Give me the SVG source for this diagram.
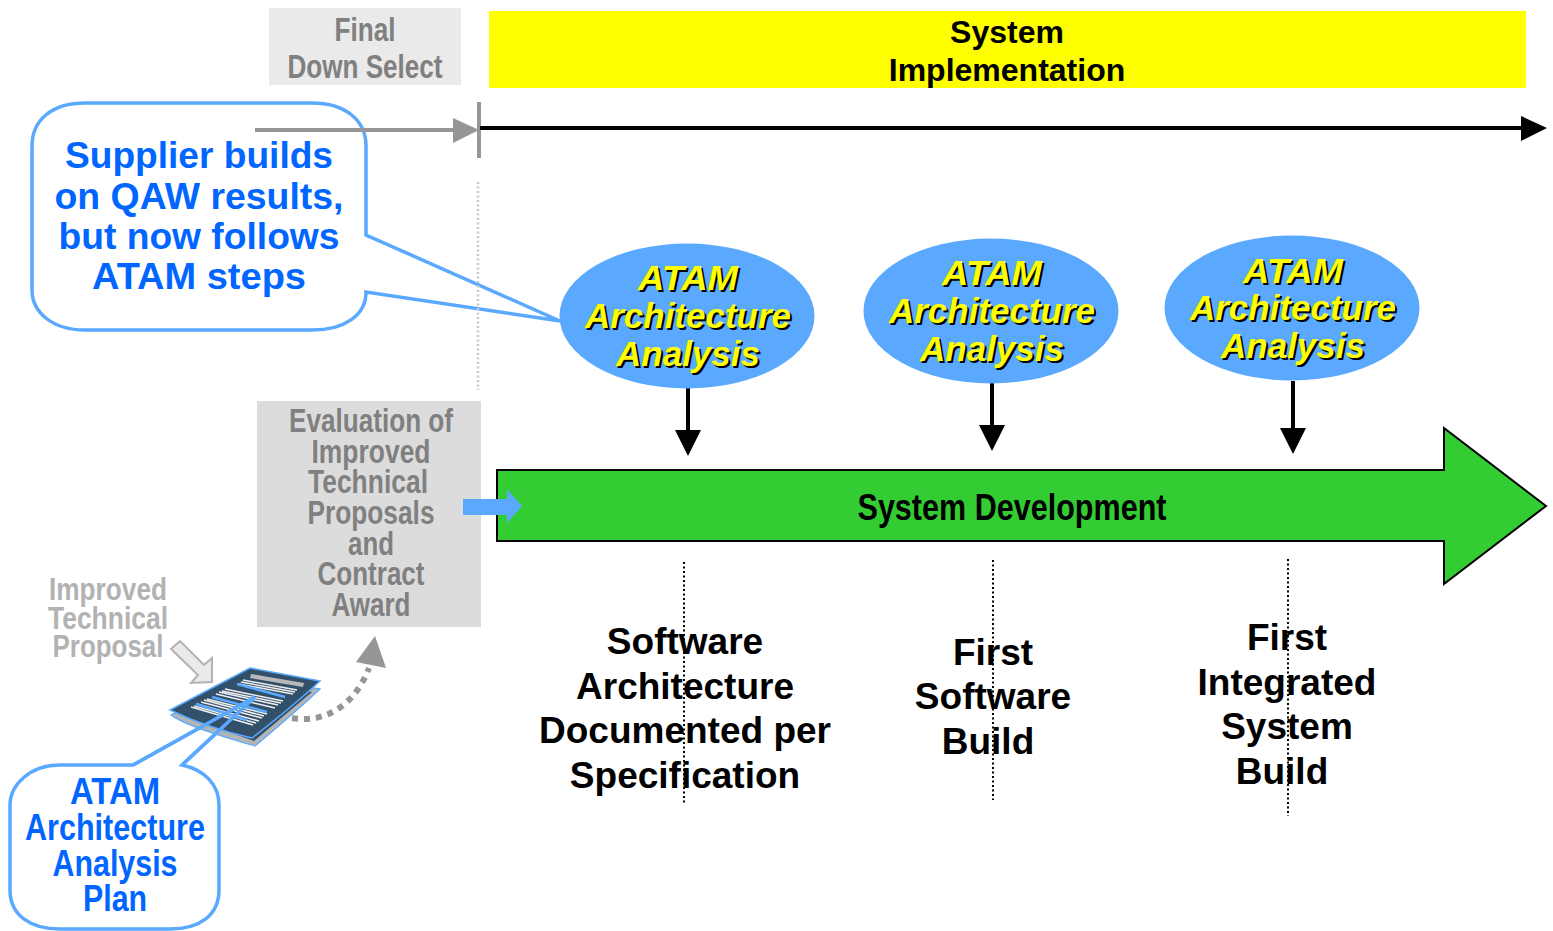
<svg xmlns="http://www.w3.org/2000/svg" width="1553" height="931" viewBox="0 0 1553 931">
<style>
text{font-family:"Liberation Sans",Arial,sans-serif;font-weight:bold;text-anchor:middle}
.g{fill:#808080;font-size:33px}
.lg{fill:#b2b2b2;font-size:32px}
.b{fill:#0066ff;font-size:36px}
.b2{fill:#0066ff;font-size:37.4px}
.k{fill:#000;font-size:37px}
.y{fill:#ffff00;font-size:35px;font-style:italic}
.s{fill:#000;font-size:35px;font-style:italic}
.e{fill:#5aa9ff}
.cal{fill:#fff;stroke:#5aa9ff;stroke-width:3.5}
.calS{fill:none;stroke:#5aa9ff;stroke-width:3.5}
.v{stroke:#000;stroke-width:2;stroke-dasharray:2 2.5;fill:none}
.h{stroke:#efefef;stroke-width:1.5;fill:none}
.bar{stroke:#5aa9ff;stroke-width:2.5;fill:none}
</style>
<rect width="1553" height="931" fill="#fff"/>
<g id="final-down-select"><rect x="269" y="8" width="192" height="77" fill="#eaeaea"/>
<text class="g" x="365" y="41" textLength="61" lengthAdjust="spacingAndGlyphs">Final</text>
<text class="g" x="365" y="78" textLength="155" lengthAdjust="spacingAndGlyphs">Down Select</text></g>
<g id="system-implementation"><rect x="489" y="11" width="1037" height="77" fill="#ffff00"/>
<text class="k" style="font-size:32px" x="1007" y="43">System</text>
<text class="k" style="font-size:32px" x="1007" y="81">Implementation</text></g>
<g id="supplier-callout"><path class="cal" d="M85 103H312C345 103 366 120 366 146V235L560 321L366 292C366 315 345 330 312 330H85C52 330 32 312 32 290V146C32 120 52 103 85 103Z"/>
<text class="b2" x="199" y="168" textLength="268" lengthAdjust="spacingAndGlyphs">Supplier builds</text>
<text class="b2" x="199" y="209" textLength="289" lengthAdjust="spacingAndGlyphs">on QAW results,</text>
<text class="b2" x="199" y="249" textLength="281" lengthAdjust="spacingAndGlyphs">but now follows</text>
<text class="b2" x="199" y="289" textLength="214" lengthAdjust="spacingAndGlyphs">ATAM steps</text></g>
<g id="connectors">
<path d="M255 130H456" stroke="#969696" stroke-width="4" fill="none"/>
<path d="M453 118L479 130L453 143Z" fill="#969696"/>
<path d="M479 102V158" stroke="#969696" stroke-width="4" fill="none"/>
<path d="M480 128H1522" stroke="#000" stroke-width="4" fill="none"/>
<path d="M1521 116L1547 128L1521 141Z" fill="#000"/>
<path d="M478 182V390" stroke="#c8c8c8" stroke-width="2.5" stroke-dasharray="2 2.5" fill="none"/>
<path d="M688 388V431" stroke="#000" stroke-width="4" fill="none"/><path d="M675 430H701L688 456Z" fill="#000"/>
<path d="M992 383V426" stroke="#000" stroke-width="4" fill="none"/><path d="M979 425H1005L992 451Z" fill="#000"/>
<path d="M1293 381V428" stroke="#000" stroke-width="4" fill="none"/><path d="M1280 428H1306L1293 454Z" fill="#000"/>
</g>
<g id="atam-1"><ellipse class="e" cx="687" cy="316" rx="127.5" ry="72.5"/>
<g transform="translate(2 2)"><text class="s" x="688" y="290" textLength="100" lengthAdjust="spacingAndGlyphs">ATAM</text><text class="s" x="688" y="328">Architecture</text><text class="s" x="688" y="366">Analysis</text></g>
<text class="y" x="688" y="290" textLength="100" lengthAdjust="spacingAndGlyphs">ATAM</text><text class="y" x="688" y="328">Architecture</text><text class="y" x="688" y="366">Analysis</text></g>
<g id="atam-2"><ellipse class="e" cx="991" cy="311" rx="127.5" ry="72.5"/>
<g transform="translate(2 2)"><text class="s" x="992" y="285" textLength="100" lengthAdjust="spacingAndGlyphs">ATAM</text><text class="s" x="992" y="323">Architecture</text><text class="s" x="992" y="361">Analysis</text></g>
<text class="y" x="992" y="285" textLength="100" lengthAdjust="spacingAndGlyphs">ATAM</text><text class="y" x="992" y="323">Architecture</text><text class="y" x="992" y="361">Analysis</text></g>
<g id="atam-3"><ellipse class="e" cx="1292" cy="308" rx="127.5" ry="72.5"/>
<g transform="translate(2 2)"><text class="s" x="1293" y="283" textLength="100" lengthAdjust="spacingAndGlyphs">ATAM</text><text class="s" x="1293" y="320">Architecture</text><text class="s" x="1293" y="358">Analysis</text></g>
<text class="y" x="1293" y="283" textLength="100" lengthAdjust="spacingAndGlyphs">ATAM</text><text class="y" x="1293" y="320">Architecture</text><text class="y" x="1293" y="358">Analysis</text></g>
<g id="evaluation"><rect x="257" y="401" width="224" height="226" fill="#dcdcdc"/>
<text class="g" x="371" y="432" textLength="164" lengthAdjust="spacingAndGlyphs">Evaluation of</text>
<text class="g" x="371" y="463" textLength="119" lengthAdjust="spacingAndGlyphs">Improved</text>
<text class="g" x="368" y="493" textLength="120" lengthAdjust="spacingAndGlyphs">Technical</text>
<text class="g" x="371" y="524" textLength="127" lengthAdjust="spacingAndGlyphs">Proposals</text>
<text class="g" x="371" y="555" textLength="46" lengthAdjust="spacingAndGlyphs">and</text>
<text class="g" x="371" y="585" textLength="107" lengthAdjust="spacingAndGlyphs">Contract</text>
<text class="g" x="371" y="616" textLength="79" lengthAdjust="spacingAndGlyphs">Award</text></g>
<g id="system-development"><path d="M497 470H1444V428L1546 506L1444 584V541H497Z" fill="#33cc33" stroke="#000" stroke-width="2"/>
<text class="k" style="font-size:36px" x="1012" y="520" textLength="309" lengthAdjust="spacingAndGlyphs">System Development</text></g>
<g id="eval-arrow"><path d="M463 499H507V489L522 506L507 523V515H463Z" fill="#5aa9ff"/></g>
<g id="milestones">
<text class="k" x="685" y="654">Software</text><text class="k" x="685" y="699">Architecture</text><text class="k" x="685" y="743">Documented per</text><text class="k" x="685" y="788">Specification</text>
<text class="k" x="993" y="665">First</text><text class="k" x="993" y="709">Software</text><text class="k" x="988" y="754">Build</text>
<text class="k" x="1287" y="650">First</text><text class="k" x="1287" y="695">Integrated</text><text class="k" x="1287" y="739">System</text><text class="k" x="1282" y="784">Build</text>
<path class="v" d="M684 562V804"/><path class="v" d="M993 560V800"/><path class="v" d="M1288 559V816"/>
</g>
<g id="improved-proposal">
<text class="lg" x="108" y="600" textLength="118" lengthAdjust="spacingAndGlyphs">Improved</text>
<text class="lg" x="108" y="629" textLength="120" lengthAdjust="spacingAndGlyphs">Technical</text>
<text class="lg" x="108" y="657" textLength="111" lengthAdjust="spacingAndGlyphs">Proposal</text>
<path d="M171 649L180 641L204 665L212 658V682L191 683L198 675Z" fill="#eaeaea" stroke="#b2b2b2" stroke-width="2"/></g>
<g id="plan-callout"><path class="cal" d="M60 765H133L255 697L182 765C205 770 219 785 219 805V890C219 915 200 929 170 929H60C30 929 10 915 10 890V805C10 785 30 765 60 765Z"/></g>
<g id="document">
<path d="M171 715C180 722 200 730 255 746C280 725 300 708 320 689L250 678Z" fill="#b4b4b4" stroke="#5aa9ff" stroke-width="1.2"/>
<path d="M177 713L250 680L312 692L254 741Z" fill="#33506b"/>
<path d="M170 710L250 668L320 681C300 700 275 720 252 738C225 732 195 722 170 710Z" fill="#33506b" stroke="#5aa9ff" stroke-width="1.5"/>
<path d="M251 674L304 683L303 687L250 678Z" fill="#b8b8b8"/>
<path class="h" d="M243 680L297 690M241 682L295 692M239 684L293 694M225 689L283 701M222 691L281 703M219 692L278 705M216 694L275 708M207 699L267 714M204 700L264 716M201 702L262 718M197 704L259 721M194 706L256 723M191 707L253 725"/>
<path class="bar" d="M237 684L285 697M212 697L267 712M196 704L247 720"/>
</g>
<g id="plan-callout-lines"><path class="calS" d="M133 765L255 697L182 765"/>
<text class="b" x="115" y="804" textLength="90" lengthAdjust="spacingAndGlyphs">ATAM</text>
<text class="b" x="115" y="840" textLength="180" lengthAdjust="spacingAndGlyphs">Architecture</text>
<text class="b" x="115" y="876" textLength="125" lengthAdjust="spacingAndGlyphs">Analysis</text>
<text class="b" x="115" y="911" textLength="64" lengthAdjust="spacingAndGlyphs">Plan</text></g>
<g id="dotted-return"><path d="M292 718C325 724 355 705 369 668" fill="none" stroke="#969696" stroke-width="6" stroke-dasharray="6 6"/>
<path d="M356 662L375 636L386 668Z" fill="#969696"/></g>
</svg>
